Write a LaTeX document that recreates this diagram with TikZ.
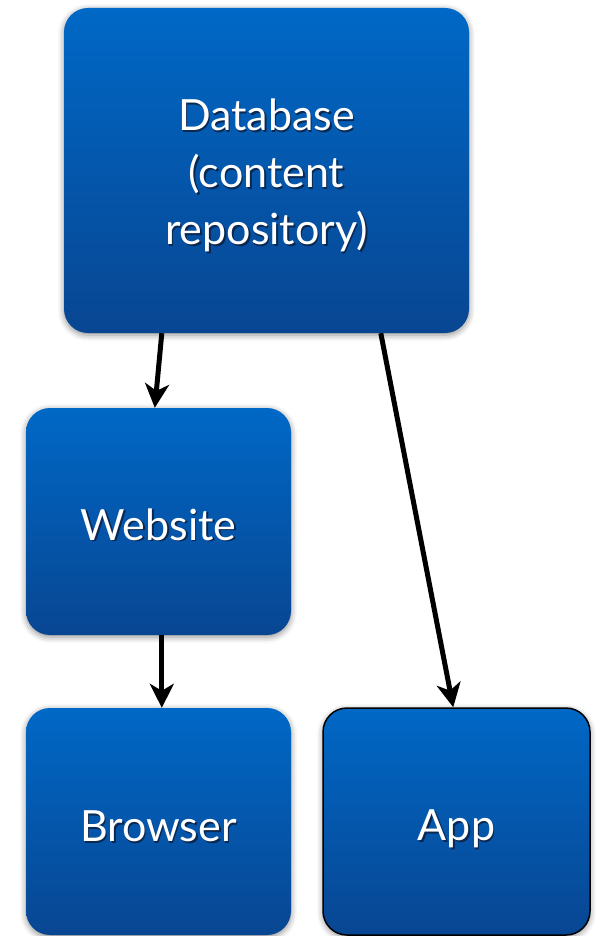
\documentclass[tikz,border=0pt]{standalone}
\usepackage{fontspec}
\setmainfont{Lato}
\usetikzlibrary{arrows.meta,shadows.blur}
\definecolor{boxtop}{RGB}{0,104,198}
\definecolor{boxbottom}{RGB}{8,70,146}
\definecolor{textshade}{RGB}{10,40,80}
\newcommand{\shtext}[1]{\makebox[0pt][l]{\hspace{1.6pt}\raisebox{-1.6pt}{\color{textshade}#1}}#1}
\tikzset{
  box/.style={rounded corners=24pt, top color=boxtop, bottom color=boxbottom,
    draw=none,
    blur shadow={shadow xshift=0pt, shadow yshift=-2pt, shadow blur radius=6pt,
      shadow opacity=45}},
  caption/.style={text=white, align=center, yshift=-6pt,
    font=\fontsize{43}{57}\selectfont},
  link/.style={line width=5pt, -{Stealth[length=24pt,width=24pt,inset=7pt]}},
}
\begin{document}
\begin{tikzpicture}[x=1pt,y=-1pt]
  \useasboundingbox (0,0) rectangle (597,936);
  % boxes, each with its caption at the centre
  \node[box, minimum width=405pt, minimum height=325pt,
    label={[caption, name=dbtext]center:\shtext{Database}\\\shtext{(content}\\\shtext{repository)}}]
    (db) at (266.5,170.5) {};
  \node[box, minimum width=265pt, minimum height=227pt,
    label={[caption, name=wstext, yshift=2pt]center:\shtext{Website}}] (ws) at (158.5,521.5) {};
  \node[box, minimum width=265pt, minimum height=227pt,
    label={[caption, name=brtext]center:\shtext{Browser}}] (br) at (158.5,821.5) {};
  \node[box, draw=black, line width=1.5pt, minimum width=267pt, minimum height=227pt,
    label={[caption, name=apptext, yshift=-2pt]center:\shtext{App}}] (app) at (456.5,821.5) {};
  % connectors
  \draw[link] ([xshift=98pt]db.south west) -- ([xshift=129pt]ws.north west);
  \draw[link] ([xshift=136pt]ws.south west) -- ([xshift=136pt]br.north west);
  \draw[link] ([xshift=317pt]db.south west) -- ([xshift=131pt]app.north west);
\end{tikzpicture}
\end{document}
